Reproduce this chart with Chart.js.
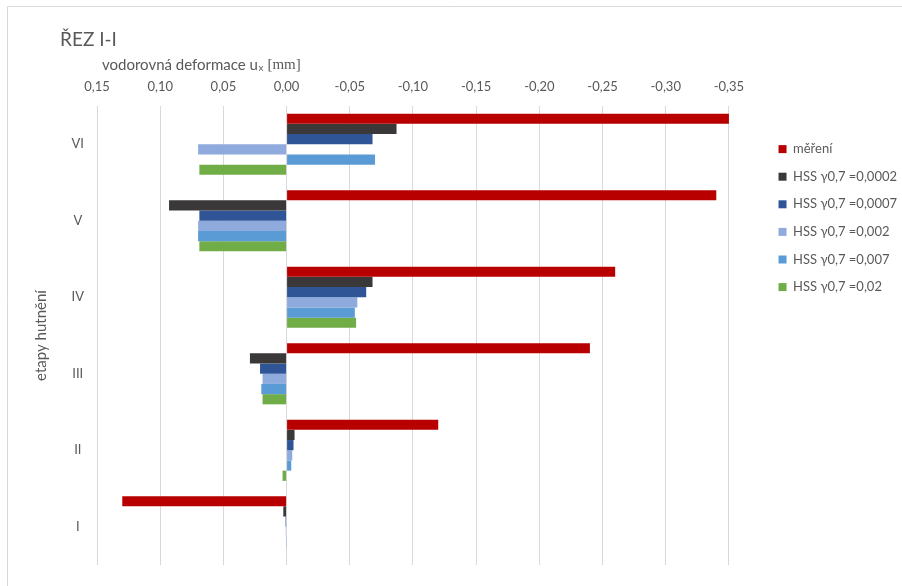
<!DOCTYPE html>
<html>
<head>
<meta charset="utf-8">
<script src="https://cdn.jsdelivr.net/npm/chart.js@4.4.1/dist/chart.umd.min.js"></script>
<style>
  html, body { margin: 0; padding: 0; background: #ffffff; }
  #wrap { width: 902px; height: 586px; }
</style>
</head>
<body>
<div id="wrap"><canvas id="c" width="902" height="586"></canvas></div>
<script>
// ---- data ----
const chartTitle = 'ŘEZ I-I';
const xTitleMain = 'vodorovná deformace u';
const xTitleSub = 'x';
const xTitleUnit = '[mm]';
const yTitle = 'etapy hutnění';

const categories = ['VI', 'V', 'IV', 'III', 'II', 'I'];
const seriesNames = ['měření', 'HSS γ0,7 =0,0002', 'HSS γ0,7 =0,0007', 'HSS γ0,7 =0,002', 'HSS γ0,7 =0,007', 'HSS γ0,7 =0,02'];

const mereni  = [-0.350, -0.340, -0.260, -0.240, -0.120, 0.130];
const hss0002 = [-0.087,  0.093, -0.068,  0.029, -0.0063, 0.0026];
const hss0007 = [-0.068,  0.069, -0.063,  0.021, -0.0055, 0.0008];
const hss002  = [ 0.070,  0.070, -0.056,  0.019, -0.0045, 0.0006];
const hss007  = [-0.070,  0.070, -0.054,  0.020, -0.0037, 0.0002];
const hss02   = [ 0.069,  0.069, -0.055,  0.019,  0.0032, 0.0000];

const xMin = -0.35, xMax = 0.15, xStep = 0.05;

const colors = ['#B80000', '#3A3838', '#2F5597', '#8FAADC', '#5B9BD5', '#70AD47'];
const seriesValues = [mereni, hss0002, hss0007, hss002, hss007, hss02];

const textColor = '#595959';
const fontFamily = 'Lato, "Open Sans", sans-serif';

function fmt(v) {
  if (Math.abs(v) < 1e-9) return '0,00';
  return v.toFixed(2).replace('.', ',');
}

const decor = {
  id: 'decor',
  beforeDraw(chart) {
    const ctx = chart.ctx;
    ctx.save();
    ctx.fillStyle = '#ffffff';
    ctx.fillRect(0, 0, chart.width, chart.height);
    ctx.strokeStyle = '#d9d9d9';
    ctx.lineWidth = 1;
    ctx.beginPath();
    ctx.moveTo(7.5, chart.height);
    ctx.lineTo(7.5, 6.5);
    ctx.lineTo(chart.width, 6.5);
    ctx.stroke();
    ctx.restore();
  },
  afterDraw(chart) {
    const ctx = chart.ctx;
    ctx.save();
    ctx.fillStyle = textColor;
    ctx.textBaseline = 'middle';
    ctx.textAlign = 'left';
    ctx.font = '19px ' + fontFamily;
    ctx.fillText(chartTitle, 60, 40);
    let x = 102, y = 65;
    ctx.font = '15px ' + fontFamily;
    ctx.fillText(xTitleMain, x, y);
    x += ctx.measureText(xTitleMain).width + 0.5;
    ctx.font = '10px ' + fontFamily;
    ctx.fillText(xTitleSub, x, y + 3);
    x += ctx.measureText(xTitleSub).width + 4;
    ctx.font = '15px "Liberation Serif", serif';
    ctx.fillText(xTitleUnit, x, y);
    ctx.restore();
  }
};

new Chart(document.getElementById('c'), {
  type: 'bar',
  data: {
    labels: categories,
    datasets: seriesNames.map((name, i) => ({
      label: name,
      data: seriesValues[i],
      backgroundColor: colors[i],
      borderWidth: 0,
      categoryPercentage: 0.8,
      barPercentage: 1.0
    }))
  },
  options: {
    indexAxis: 'y',
    responsive: false,
    animation: false,
    devicePixelRatio: 1,
    layout: { padding: { left: 0, right: -5, top: 0, bottom: 21 } },
    scales: {
      x: {
        position: 'top',
        reverse: true,
        min: xMin,
        max: xMax,
        ticks: {
          stepSize: xStep,
          padding: 11,
          color: textColor,
          font: { family: fontFamily, size: 13 },
          maxRotation: 0,
          callback: (v) => fmt(v)
        },
        grid: { color: '#d9d9d9', lineWidth: 1, drawTicks: false },
        border: { display: false },
        afterFit: (s) => { s.height = 106; }
      },
      y: {
        position: 'left',
        grid: { display: false, drawTicks: false },
        border: { display: false },
        ticks: {
          crossAlign: 'center',
          padding: 13,
          color: textColor,
          font: { family: fontFamily, size: 13 }
        },
        title: {
          display: true,
          text: yTitle,
          color: textColor,
          font: { family: fontFamily, size: 15 },
          padding: { top: 32, bottom: 0 }
        },
        afterFit: (s) => { s.width = 97; }
      },
      spacer: {
        type: 'category',
        labels: categories,
        position: 'right',
        display: true,
        grid: { display: false, drawTicks: false },
        border: { display: false },
        ticks: { display: false },
        afterFit: (s) => { s.width = 35; }
      }
    },
    plugins: {
      legend: {
        position: 'right',
        align: 'start',
        fullSize: false,
        labels: {
          boxWidth: 8,
          boxHeight: 8,
          padding: 14.6,
          color: textColor,
          font: { family: fontFamily, size: 13 }
        },
        title: { display: true, text: '', padding: 3.2, font: { size: 13 } }
      },
      tooltip: { enabled: false }
    }
  },
  plugins: [decor]
});
</script>
</body>
</html>
